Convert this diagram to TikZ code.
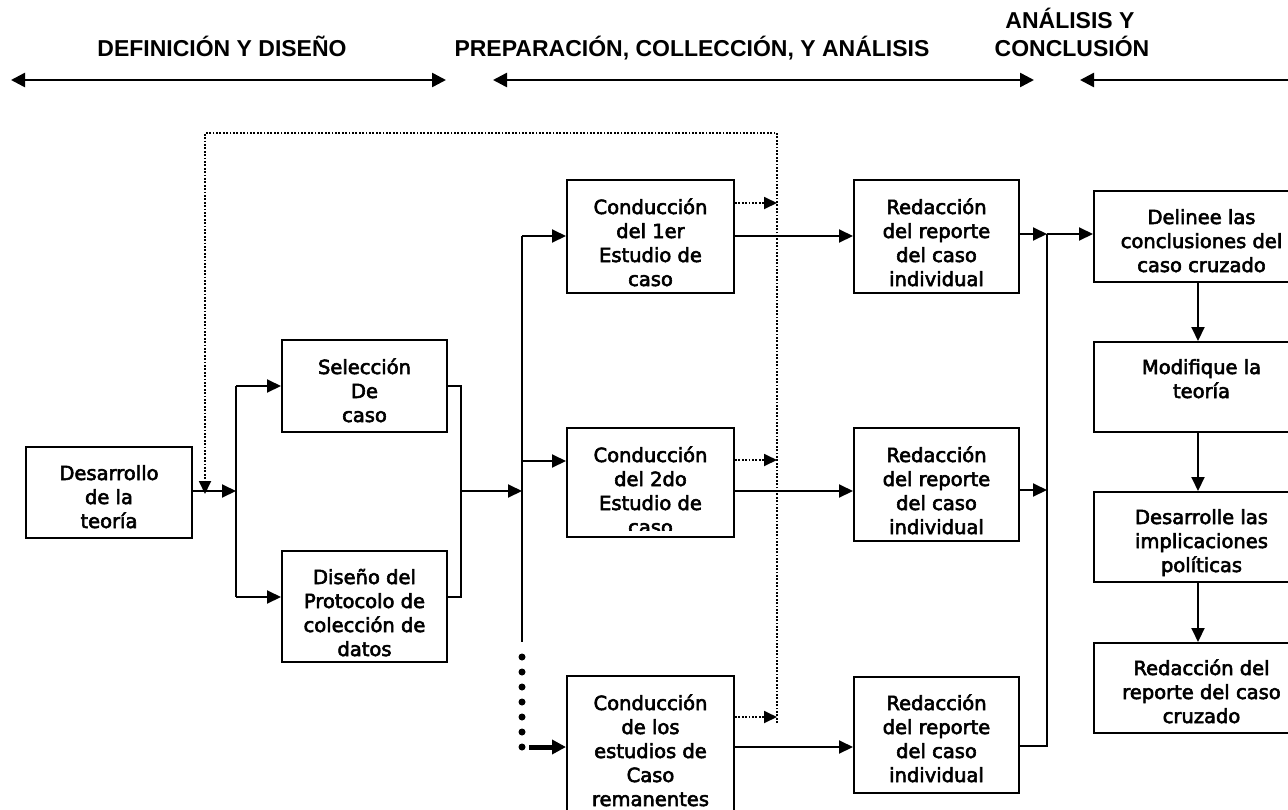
\documentclass[tikz,border=0pt]{standalone}
\usepackage{fontspec}
\setmainfont{DejaVu Sans}
\newfontfamily\bxfont[FakeBold=3]{DejaVu Sans}
\newfontfamily\hdfont{Liberation Sans}
\usetikzlibrary{arrows.meta}
\begin{document}
\begin{tikzpicture}[x=1pt,y=-1pt,
  box/.style={draw, line width=2pt, inner sep=0pt, anchor=north west},
  txt/.style={anchor=north, align=center, inner sep=0pt, font=\bxfont\fontsize{19.5}{24}\selectfont},
  hd/.style={anchor=base, inner sep=0pt, font=\hdfont\bfseries\fontsize{23}{28}\selectfont},
  ln/.style={line width=2pt},
  arr/.style={line width=2pt, -{Triangle[length=14pt,width=13pt]}},
  thickarr/.style={line width=5pt, -{Triangle[length=14pt,width=14pt]}},
  dotarr/.style={line width=1.8pt, dash pattern=on 1.8pt off 1.6pt, -{Triangle[length=13pt,width=12pt]}},
  hdarr/.style={line width=2.5pt, {Triangle[length=14pt,width=14pt]}-{Triangle[length=14pt,width=14pt]}},
  hdarrl/.style={line width=2.5pt, {Triangle[length=14pt,width=14pt]}-}
]
\fill[white] (0,0) rectangle (1288,809);
\useasboundingbox (0,0) rectangle (1288,809);

% headings
\node[hd] (h1) at (222,56) {DEFINICIÓN Y DISEÑO};
\node[hd] (h2) at (692,56) {PREPARACIÓN, COLLECCIÓN, Y ANÁLISIS};
\node[hd] (h3a) at (1070,28) {ANÁLISIS Y};
\node[hd] (h3b) at (1072,56) {CONCLUSIÓN};
\coordinate (a1l) at (11,80); \coordinate (a1r) at (446,80);
\coordinate (a2l) at (493,80); \coordinate (a2r) at (1034,80);
\coordinate (a3l) at (1080,80); \coordinate (a3r) at (1300,80);
\draw[hdarr] (a1l) -- (a1r);
\draw[hdarr] (a2l) -- (a2r);
\draw[hdarrl] (a3l) -- (a3r);

% boxes
\node[box, minimum width=166pt, minimum height=91pt] (n1) at (25,446) {};
\node[box, minimum width=165pt, minimum height=92pt] (sel) at (281,339) {};
\node[box, minimum width=165pt, minimum height=111pt] (dis) at (281,550) {};
\node[box, minimum width=167pt, minimum height=113pt] (c1) at (566,179) {};
\node[box, minimum width=167pt, minimum height=109pt] (c2) at (566,427) {};
\node[box, minimum width=167pt, minimum height=160pt] (c3) at (566,675) {};
\node[box, minimum width=165pt, minimum height=113pt] (r1) at (853,179) {};
\node[box, minimum width=165pt, minimum height=113pt] (r2) at (853,427) {};
\node[box, minimum width=165pt, minimum height=116pt] (r3) at (853,676) {};
\node[box, minimum width=217pt, minimum height=91pt] (d1) at (1093,190) {};
\node[box, minimum width=217pt, minimum height=90pt] (d2) at (1093,341) {};
\node[box, minimum width=217pt, minimum height=90pt] (d3) at (1093,491) {};
\node[box, minimum width=217pt, minimum height=90pt] (d4) at (1093,642) {};

% texts
\node[txt] (tn1) at ([yshift=-17pt]n1.north) {\strut Desarrollo\\de la\\teoría};
\node[txt] (tsel) at ([yshift=-18pt]sel.north) {\strut Selección\\De\\caso};
\node[txt] (tdis) at ([yshift=-17pt]dis.north) {\strut Diseño del\\Protocolo de\\colección de\\datos};
\node[txt] (tc1) at ([yshift=-18pt]c1.north) {\strut Conducción\\del 1er\\Estudio de\\caso};
\begin{scope}
\clip (567,428) rectangle (732,530);
\node[txt] (tc2) at ([yshift=-18pt]c2.north) {\strut Conducción\\del 2do\\Estudio de\\caso};
\end{scope}
\node[txt] (tc3) at ([yshift=-18pt]c3.north) {\strut Conducción\\de los\\estudios de\\Caso\\remanentes};
\node[txt] (tr1) at ([yshift=-18pt]r1.north) {\strut Redacción\\del reporte\\del caso\\individual};
\node[txt] (tr2) at ([yshift=-18pt]r2.north) {\strut Redacción\\del reporte\\del caso\\individual};
\node[txt] (tr3) at ([yshift=-17pt]r3.north) {\strut Redacción\\del reporte\\del caso\\individual};
\node[txt] (td1) at ([xshift=-1pt,yshift=-17pt]d1.north) {\strut Delinee las\\conclusiones del\\caso cruzado};
\node[txt] (td2) at ([xshift=-1pt,yshift=-16pt]d2.north) {\strut Modifique la\\teoría};
\node[txt] (td3) at ([xshift=-1pt,yshift=-16pt]d3.north) {\strut Desarrolle las\\implicaciones\\políticas};
\node[txt] (td4) at ([xshift=-1pt,yshift=-16pt]d4.north) {\strut Redacción del\\reporte del caso\\cruzado};

% left part connectors
\coordinate (j1) at (236,491);
\coordinate (ja) at (236,386);
\coordinate (jd) at (236,597);
\draw[arr] (j1 -| n1.east) -- (j1);
\draw[ln] (ja) -- (jd);
\draw[arr] (ja) -- (ja -| sel.west);
\draw[arr] (jd) -- (jd -| dis.west);
\coordinate (ka) at (461,386);
\coordinate (kd) at (461,597);
\coordinate (km) at (461,491);
\draw[ln] (ka -| sel.east) -- (ka) -- (kd) -- (kd -| dis.east);
\coordinate (v1) at (522,491);
\draw[arr] (km) -- (v1);

% distribution to case studies
\coordinate (vt) at (522,236);
\coordinate (vb) at (522,642);
\coordinate (v2) at (522,461);
\coordinate (v3) at (529,747);
\draw[ln] (vt) -- (vb);
\draw[arr] (vt) -- (vt -| c1.west);
\draw[arr] (v2) -- (v2 -| c2.west);
\foreach \yy in {657,672,687,702,717,732,747} \fill (522,\yy) circle (3.5pt);
\draw[thickarr] (v3) -- (v3 -| c3.west);

% case studies to reports
\draw[arr] (c1.east |- vt) -- (r1.west |- vt);
\draw[arr] (c2.east |- v1) -- (r2.west |- v1);
\draw[arr] (c3.east |- v3) -- (r3.west |- v3);

% dotted feedback
\coordinate (e1) at (777,203);
\coordinate (e2) at (777,460);
\coordinate (e3) at (777,717);
\coordinate (fb) at (777,723);
\coordinate (ft) at (777,133);
\coordinate (fl) at (205,133);
\coordinate (fe) at (205,494);
\draw[dotarr] (c1.east |- e1) -- (e1);
\draw[dotarr] (c2.east |- e2) -- (e2);
\draw[dotarr] (c3.east |- e3) -- (e3);
\draw[dotarr] (fb) -- (ft) -- (fl) -- (fe);

% reports to cross-case
\coordinate (m1) at (1047,234);
\coordinate (m2) at (1047,490);
\coordinate (m3) at (1047,746);
\draw[arr] (r1.east |- m1) -- (m1);
\draw[arr] (r2.east |- m2) -- (m2);
\draw[ln] (r3.east |- m3) -- (m3) -- (m1);
\draw[arr] (m1) -- (m1 -| d1.west);

% right column
\coordinate (dx) at (1198,0);
\draw[arr] (d1.south -| dx) -- (d2.north -| dx);
\draw[arr] (d2.south -| dx) -- (d3.north -| dx);
\draw[arr] (d3.south -| dx) -- (d4.north -| dx);
\end{tikzpicture}
\end{document}
